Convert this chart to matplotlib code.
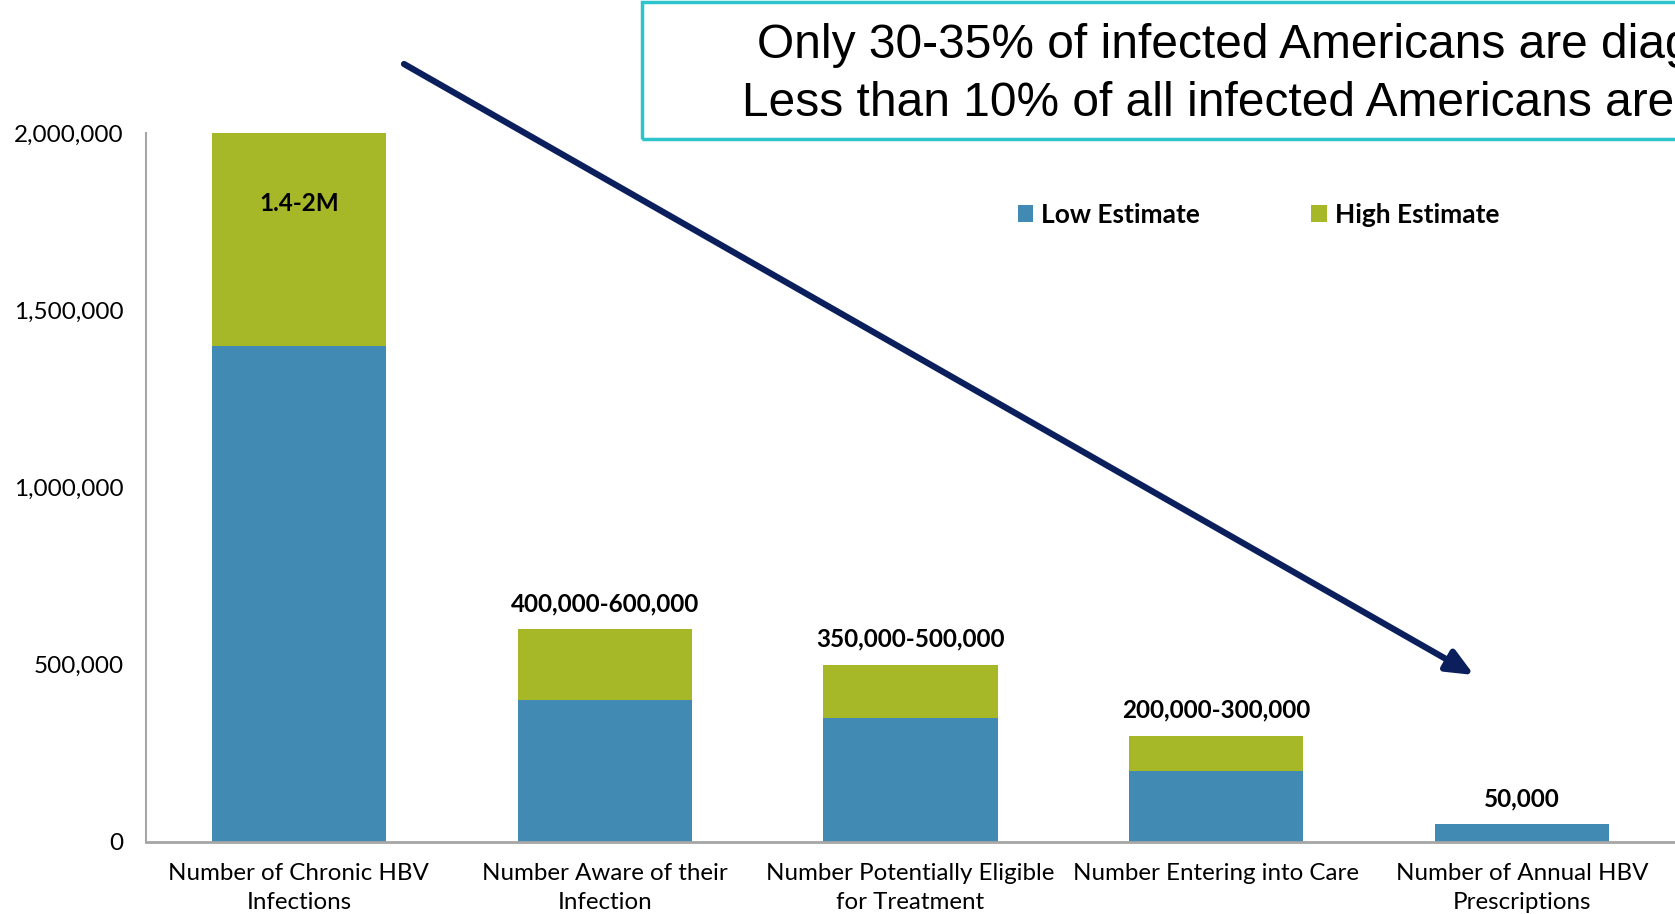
import matplotlib
matplotlib.use("Agg")
from matplotlib import pyplot as plt
from matplotlib.patches import Rectangle
import numpy as np

categories = ["Number of Chronic HBV\nInfections",
              "Number Aware of their\nInfection",
              "Number Potentially Eligible\nfor Treatment",
              "Number Entering into Care",
              "Number of Annual HBV\nPrescriptions"]
low = [1400000, 400000, 350000, 200000, 50000]
high = [2000000, 600000, 500000, 300000, 50000]
labels = ["1.4-2M", "400,000-600,000", "350,000-500,000", "200,000-300,000", "50,000"]
yticks = [0, 500000, 1000000, 1500000, 2000000]

blue = "#418AB3"
green = "#A6B727"
font = "Lato"

W, H = 1675, 914
fig = plt.figure(figsize=(W / 100, H / 100), dpi=100)
ax = fig.add_axes([146 / W, 1 - 842 / H, 1 - 146 / W, (842 - 133) / H])

x = np.arange(len(categories))
extra = [h - l for h, l in zip(high, low)]
ax.bar(x, low, width=0.57, color=blue, label="Low Estimate")
ax.bar(x, extra, bottom=low, width=0.57, color=green, label="High Estimate")

ax.set_xlim(-0.5, 4.5)
ax.set_ylim(0, 2000000)
ax.set_yticks(yticks)
ax.set_yticklabels([f"{v:,}" for v in yticks], fontsize=17.5, family=font)
ax.set_xticks(x)
ax.set_xticklabels(categories, fontsize=17.4, family=font, linespacing=1.5)
ax.tick_params(axis="both", length=0)
ax.tick_params(axis="y", pad=16)
ax.tick_params(axis="x", pad=15)
for s in ["top", "right"]:
    ax.spines[s].set_visible(False)
ax.spines["left"].set_color("#A6A6A6")
ax.spines["left"].set_linewidth(1.5)
ax.spines["bottom"].set_color("#A6A6A6")
ax.spines["bottom"].set_linewidth(2)

# labels
ax.text(0, 1800000, labels[0], ha="center", va="center", fontsize=17.5,
        fontweight="bold", family=font)
for i in range(1, len(x)):
    ax.annotate(labels[i], (x[i], high[i]), xytext=(0, 10), textcoords="offset points",
                ha="center", va="bottom", fontsize=17.5, fontweight="bold", family=font)

leg = ax.legend(loc="upper left", bbox_to_anchor=((1007 - 146) / (W - 146), (842 - 192) / (842 - 133)),
                ncol=2, frameon=False, fontsize=19, handlelength=0.6, handleheight=0.6,
                handletextpad=0.3, columnspacing=4.2, borderaxespad=0)
for t in leg.get_texts():
    t.set_fontweight("bold")
    t.set_family(font)

# callout box and arrow
fig.patches.append(Rectangle((642 / W, 1 - 139 / H), 1.0, 137 / H, transform=fig.transFigure,
                             fill=False, edgecolor="#2EC4CC", linewidth=2.5))
fig.text(757 / W, 1 - 45 / H, "Only 30-35% of infected Americans are diagnosed",
         ha="left", va="center", fontsize=34.5, family="Liberation Sans")
fig.text(742 / W, 1 - 103 / H, "Less than 10% of all infected Americans are treated",
         ha="left", va="center", fontsize=34.5, family="Liberation Sans")

ax.annotate("", xy=(1474 / W, 1 - 675 / H), xytext=(404 / W, 1 - 64 / H),
            xycoords="figure fraction", textcoords="figure fraction",
            arrowprops=dict(arrowstyle="-|>,head_length=1.6,head_width=0.7",
                            color="#0A1F5C", linewidth=4.5, shrinkA=0, shrinkB=0))

fig.savefig("out.png", dpi=100)
